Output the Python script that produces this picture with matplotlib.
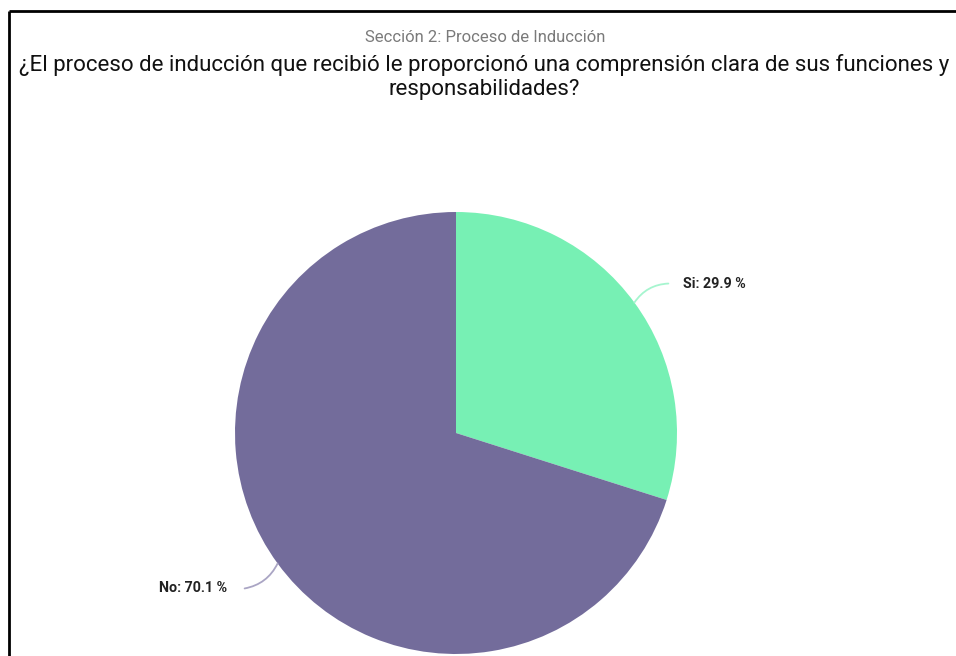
import numpy as np
import matplotlib
matplotlib.use("Agg")
import matplotlib.pyplot as plt

# data
labels = ["Si", "No"]
values = [29.9, 70.1]
colors = ["#77f0b4", "#736c9b"]
line_colors = ["#a6f5cf", "#aaa5c4"]

subtitle = "Sección 2: Proceso de Inducción"
title = "¿El proceso de inducción que recibió le proporcionó una comprensión clara de sus funciones y\nresponsabilidades?"

plt.rcParams['font.family'] = ['Roboto', 'DejaVu Sans']

W, H = 956, 656
fig = plt.figure(figsize=(W / 100, H / 100), dpi=100)
ax = fig.add_axes([0, 0, 1, 1])

cx, cy, r = 456, 223, 221
wedges, _ = ax.pie(values, colors=colors, startangle=90, counterclock=False,
                   center=(cx, cy), radius=r, frame=True,
                   wedgeprops=dict(linewidth=0))
ax.set_xlim(0, W)
ax.set_ylim(0, H)
ax.set_aspect('equal')
ax.axis('off')

# frame lines (top and left)
ax.plot([9, W], [H - 11, H - 11], color='black', lw=2, solid_capstyle='butt')
ax.plot([9, 9], [0, H - 11], color='black', lw=2, solid_capstyle='butt')

# titles
fig.text(0.507, 1 - 37 / H, subtitle, ha='center', va='center',
         fontsize=12, color='#7a7a7a')
fig.text(0.506, 1 - 77 / H, title, ha='center', va='center',
         fontsize=16, color='#111111', linespacing=1.17)

# labels with curved leader lines
setup = [
    dict(off=(34, 19), rad=0.25, ha='left', dx=15, dy=0),
    dict(off=(-33, -25), rad=0.25, ha='right', dx=-17, dy=0),
]
start = 90.0
for lab, val, w, lc, s in zip(labels, values, wedges, line_colors, setup):
    mid = start - val * 360 / 200
    start -= val * 360 / 100
    a = np.deg2rad(mid)
    ex, ey = cx + r * np.cos(a), cy + r * np.sin(a)
    tx, ty = ex + s['off'][0], ey + s['off'][1]
    ax.annotate("", xy=(ex, ey), xytext=(tx, ty),
                arrowprops=dict(arrowstyle='-', color=lc, lw=1.3,
                                connectionstyle="arc3,rad=%s" % s['rad'],
                                shrinkA=0, shrinkB=0))
    ax.text(tx + s['dx'], ty + s['dy'], "%s: %.1f %%" % (lab, val),
            ha=s['ha'], va='center', fontsize=10.3, fontweight='bold',
            color='#222222')

fig.savefig("out.png", dpi=100)
